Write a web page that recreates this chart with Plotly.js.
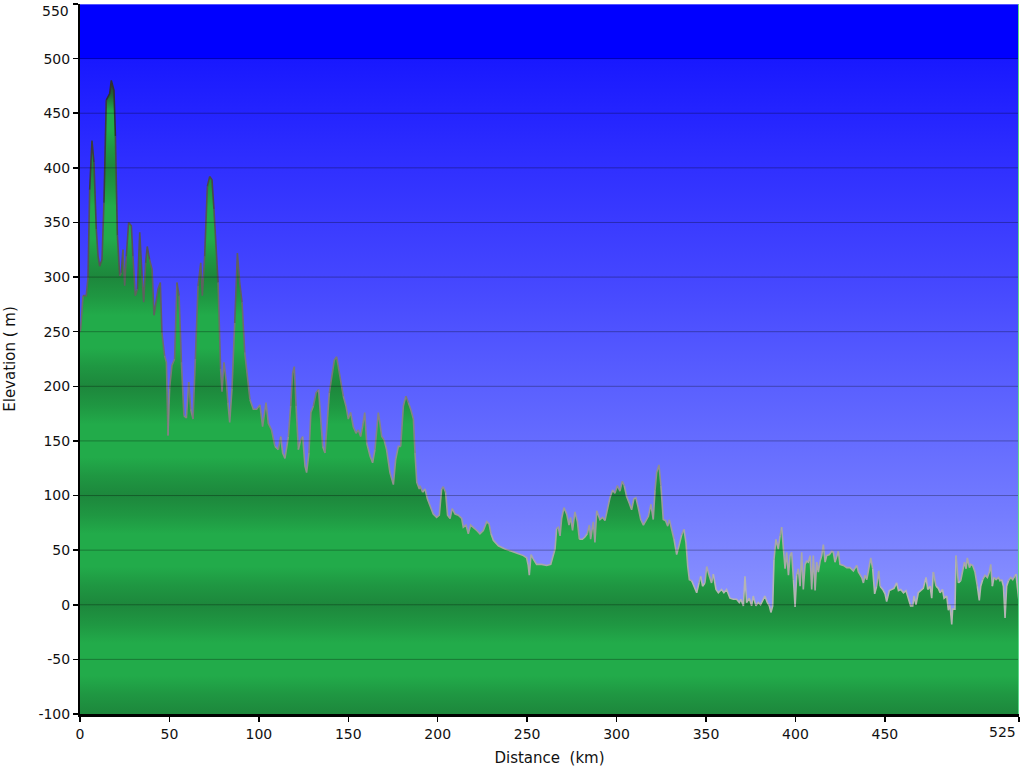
<!DOCTYPE html>
<html>
<head>
<meta charset="utf-8">
<script src="https://cdn.plot.ly/plotly-3.0.1.min.js"></script>
<style>html,body{margin:0;padding:0;background:#fff;}#chart{width:1024px;height:768px;}</style>
</head>
<body>
<div id="chart"></div>
<script>
// ---- data (distance in km, elevation in m) ----
const distanceKm = [
0,0.4,1.7,3.5,4.5,5.4,6.2,6.7,7.8,8.5,9.1,10.1,11.0,12.3,13.4,14.7,16.6,17.5,19.0,19.8,20.9,22.2,23.1,24.0,25.0,25.9,27.2,28.7,29.6,30.9,32.1,33.4,34.7,35.6,36.7,37.6,38.9,40.3,41.4,42.7,43.6,44.9,45.8,47.3,48.3,49.2,50.1,51.4,52.9,54.2,55.4,56.7,58.1,59.5,60.8,61.9,63.2,64.5,66.0,67.5,68.4,69.7,71.2,72.5,73.8,74.9,76.0,77.2,78.6,79.4,80.5,81.8,82.7,83.7,85.0,86.5,88.0,89.3,90.6,92.1,
93.2,95.0,96.9,98.8,100.6,102.1,104.0,105.3,107.1,109.0,110.9,112.2,113.3,114.6,116.5,117.8,118.9,119.8,120.8,122.1,123.4,124.5,125.8,126.7,128.0,129.1,130.5,132.0,133.4,134.6,135.7,137.0,138.3,139.4,140.7,142.2,143.5,144.8,145.9,147.2,148.7,150.0,151.3,152.8,154.3,155.6,156.9,158.0,159.2,160.3,162.2,163.6,164.9,166.8,167.7,168.7,170.0,171.4,173.3,175.2,176.5,178.0,179.3,180.8,182.2,183.6,184.9,186.4,187.3,188.3,189.7,
190.1,191.6,192.9,194.2,195.7,197.5,199.4,200.9,202.2,203.1,204.4,205.5,206.9,208.1,209.7,211.5,213.4,214.3,215.8,217.1,218.4,219.9,221.8,223.6,225.5,227.4,228.7,229.8,231.1,233.9,237.6,241.3,245.0,247.9,249.7,250.6,251.2,252.2,253.4,255.3,258.1,260.9,263.2,264.6,265.6,266.5,267.4,268.4,269.3,270.6,272.1,273.4,274.3,275.4,276.7,278.1,279.2,280.9,282.3,283.6,284.8,285.5,287.0,287.9,288.9,
290.7,292.2,293.5,294.8,296.3,297.8,299.1,300.4,301.9,303.2,304.3,305.6,307.1,308.4,309.7,310.8,312.1,313.5,315.0,316.3,317.8,319.2,320.5,321.5,322.4,323.7,324.8,326.1,327.4,328.6,329.5,330.8,332.1,333.6,334.9,336.4,337.7,338.8,339.8,340.7,342.0,343.3,344.8,346.1,347.0,348.1,349.4,350.4,351.9,353.1,354.1,355.6,356.9,358.7,360.0,361.5,363.4,365.3,367.1,368.6,369.5,370.9,371.8,372.7,374.2,375.5,376.4,377.9,379.2,380.5,382.0,382.9,384.3,385.4,386.3,387.3,388.0,389.1,390.4,391.4,
392.3,393.3,394.2,395.1,396.1,397.0,397.9,398.9,399.8,400.7,401.6,402.6,403.5,404.4,405.4,406.3,407.2,408.2,409.1,410.0,411.0,411.9,412.8,413.8,414.7,415.6,416.6,417.5,419.0,420.3,421.2,422.1,423.1,424.0,424.9,426.8,428.7,430.5,432.4,434.3,435.2,436.1,437.1,438.0,438.9,439.9,440.8,442.1,443.2,444.3,445.4,446.6,447.3,448.8,450.1,451.0,452.5,453.8,455.1,456.6,457.6,458.9,460.4,461.8,463.1,464.4,465.6,466.3,467.4,468.7,470.0,471.5,473.0,474.0,475.3,476.2,477.1,478.6,479.9,480.9,482.2,483.1,484.6,485.5,486.4,487.4,487.9,489.2,489.8,491.1,492.4,493.5,494.5,495.4,496.1,497.3,498.0,499.1,500.4,501.7,502.8,503.6,504.7,506.0,507.3,508.4,509.2,510.1,511.0,512.2,513.5,514.4,515.3,516.3,517.2,518.1,519.1,520.4,521.5,522.4,523.3,524.3,525.0
];
const elevationM = [
250,253,283,283,300,380,420,425,405,380,344,319,310,316,368,462,468,480,471,429,338,301,304,325,292,319,350,347,319,283,289,341,301,277,313,328,316,307,265,280,289,295,249,228,222,155,198,219,225,295,283,222,173,171,204,179,170,225,292,313,283,319,383,392,389,362,331,295,216,195,222,204,185,167,198,258,322,295,277,231,
212,188,179,179,183,163,185,166,160,145,142,154,139,134,154,182,212,218,182,142,151,154,127,121,139,176,182,194,197,170,145,139,170,194,209,224,227,215,203,191,182,170,176,163,157,160,154,163,176,148,136,130,142,176,166,154,151,142,121,110,133,145,145,182,191,185,179,170,139,112,106,
109,103,106,97,91,83,80,82,106,108,103,82,79,88,83,82,79,71,73,65,73,71,68,65,68,76,74,65,59,54,51,49,47,45,43,36,27,46,42,37,37,36,37,44,51,70,71,63,79,89,83,73,80,68,85,76,60,60,62,65,73,60,76,57,86,
78,80,77,87,98,105,102,109,104,113,109,99,93,87,97,98,89,78,73,77,81,92,78,105,121,128,109,78,77,72,78,69,60,46,54,64,69,57,35,23,22,17,11,20,26,17,20,35,26,20,28,14,11,14,11,14,6,5,5,2,5,-1,26,2,6,-1,8,-1,2,0,5,8,2,-1,-7,-1,41,60,51,63,
71,51,33,48,27,45,48,23,-2,27,33,17,48,14,37,40,39,45,14,45,13,39,30,40,45,55,39,45,46,49,48,39,45,49,37,36,34,34,31,36,30,27,25,20,27,23,30,43,33,10,17,31,17,14,10,3,13,14,15,20,13,14,11,13,6,-1,-1,8,0,11,13,15,25,14,17,6,30,17,15,11,14,6,8,-5,0,-18,-4,-4,45,20,22,30,39,33,43,34,37,36,30,17,4,17,23,27,25,30,37,17,25,23,25,22,23,17,-12,17,22,25,23,25,28,14,3
];
const yTickValues = [-100,-50,0,50,100,150,200,250,300,350,400,450,500,550];
const xTickValues = [0,50,100,150,200,250,300,350,400,450,525];
const xTickLabels = ['0','50','100','150','200','250','300','350','400','450','525'];
const xRange = [0, 525];
const yRange = [-100, 550];

// ---- styling helpers ----
const span = yRange[1] - yRange[0];
const pos = v => Math.min(1, Math.max(0, (v - yRange[0]) / span));

const skyScale = [
  [pos(-100), '#9ea6ff'],
  [pos(0), '#8a92ff'],
  [pos(100), '#7078ff'],
  [pos(200), '#5a60ff'],
  [pos(300), '#4446ff'],
  [pos(400), '#3030ff'],
  [pos(499.8), '#1818ff'],
  [pos(500), '#0000ff'],
  [1, '#0000ff']
];

const DARK = '#1d873c', MID = '#1f9742', LIGHT = '#22ab4a';
const greenScale = [];
for (let base = -100; base < 400; base += 100) {
  greenScale.push([pos(base), DARK]);
  greenScale.push([pos(base + 18), MID]);
  greenScale.push([pos(base + 35), LIGHT]);
  greenScale.push([pos(base + 65), LIGHT]);
  greenScale.push([pos(base + 82), MID]);
}
greenScale.push([pos(400), DARK]);
greenScale.push([pos(418), MID]);
greenScale.push([pos(435), LIGHT]);
greenScale.push([pos(452), LIGHT]);
greenScale.push([pos(466), '#1f6a34']);
greenScale.push([pos(480), '#2e2e2e']);
greenScale.push([1, '#2e2e2e']);

const traces = [];
// background sky
traces.push({x: xRange, y: [yRange[0], yRange[0]], mode: 'lines', line: {width: 0}, hoverinfo: 'skip', showlegend: false});
traces.push({x: xRange, y: [yRange[1], yRange[1]], mode: 'lines', line: {width: 0}, fill: 'tonexty',
  fillgradient: {type: 'vertical', start: yRange[0], stop: yRange[1], colorscale: skyScale}, hoverinfo: 'skip', showlegend: false});
// terrain
traces.push({x: xRange, y: [yRange[0], yRange[0]], mode: 'lines', line: {width: 0}, hoverinfo: 'skip', showlegend: false});
traces.push({x: distanceKm, y: elevationM, mode: 'lines', line: {width: 0}, fill: 'tonexty',
  fillgradient: {type: 'vertical', start: yRange[0], stop: yRange[1], colorscale: greenScale}, hoverinfo: 'skip', showlegend: false});

// outline, shade depends on elevation
function shade(e) { return Math.round(Math.max(45, Math.min(180, 180 - e * 0.29))); }
let cur = null, curBucket = null;
for (let i = 0; i < distanceKm.length - 1; i++) {
  const e = (elevationM[i] + elevationM[i + 1]) / 2;
  const c = shade(e);
  const b = Math.round(c / 12);
  if (b !== curBucket) {
    if (cur) traces.push(cur);
    const g = b * 12;
    cur = {x: [distanceKm[i]], y: [elevationM[i]], mode: 'lines', hoverinfo: 'skip', showlegend: false,
      line: {color: 'rgb(' + g + ',' + g + ',' + g + ')', width: 1.6}};
    curBucket = b;
  }
  cur.x.push(distanceKm[i + 1]);
  cur.y.push(elevationM[i + 1]);
}
if (cur) traces.push(cur);

const shapes = yTickValues.filter(v => v > yRange[0] && v < yRange[1]).map(v => ({
  type: 'line', xref: 'paper', x0: 0, x1: 1, yref: 'y', y0: v, y1: v, layer: 'above',
  line: {color: 'rgba(0,0,0,0.3)', width: 1}
}));
shapes.push({type: 'line', xref: 'paper', x0: 0, x1: 1, yref: 'y', y0: yRange[1], y1: yRange[1], layer: 'above',
  line: {color: '#a8a8ff', width: 1}});
shapes.push({type: 'line', xref: 'x', x0: xRange[1], x1: xRange[1], yref: 'paper', y0: 0, y1: 1, layer: 'above',
  line: {color: '#5fd88a', width: 2}});

const font = {family: 'DejaVu Sans, Verdana, sans-serif', size: 14, color: '#111'};

// edge labels that the reference nudges inside the figure
const topY = yTickValues[yTickValues.length - 1];
const lastXi = xTickValues.length - 1;
const yTickText = yTickValues.map(v => v === topY ? '' : String(v));
const xTickText = xTickLabels.map((t, i) => i === lastXi ? '' : t);
const annotations = [
  {xref: 'paper', x: 0, xanchor: 'right', xshift: -9, yref: 'paper', y: 1, yanchor: 'top', yshift: 3,
   text: String(topY), showarrow: false, font: font},
  {xref: 'x', x: xTickValues[lastXi], xanchor: 'right', xshift: -1, yref: 'paper', y: 0, yanchor: 'top', yshift: -8,
   text: xTickLabels[lastXi], showarrow: false, font: font}
];

const layout = {
  width: 1024, height: 768,
  margin: {l: 80, r: 5, t: 4, b: 54},
  paper_bgcolor: '#ffffff', plot_bgcolor: '#ffffff',
  showlegend: false,
  font: font,
  xaxis: {
    range: xRange, tickmode: 'array', tickvals: xTickValues, ticktext: xTickText,
    showgrid: false, zeroline: false, showline: true, linecolor: '#000', linewidth: 3,
    ticks: 'outside', ticklen: 5, tickwidth: 1.5, tickcolor: '#000',
    tickfont: font, fixedrange: true,
    title: {text: 'Distance\u00a0\u00a0(km)', font: {family: font.family, size: 15, color: '#111'}, standoff: 12}
  },
  yaxis: {
    range: yRange, tickmode: 'array', tickvals: yTickValues, ticktext: yTickText,
    showgrid: false, zeroline: false, showline: true, linecolor: '#000', linewidth: 2,
    ticks: 'outside', ticklen: 5, tickwidth: 1.5, tickcolor: '#000',
    tickfont: font, fixedrange: true,
    title: {text: 'Elevation ( m)', font: {family: font.family, size: 15, color: '#111'}, standoff: 19}
  },
  shapes: shapes,
  annotations: annotations
};

Plotly.newPlot('chart', traces, layout, {staticPlot: true, displayModeBar: false});
</script>
</body>
</html>
